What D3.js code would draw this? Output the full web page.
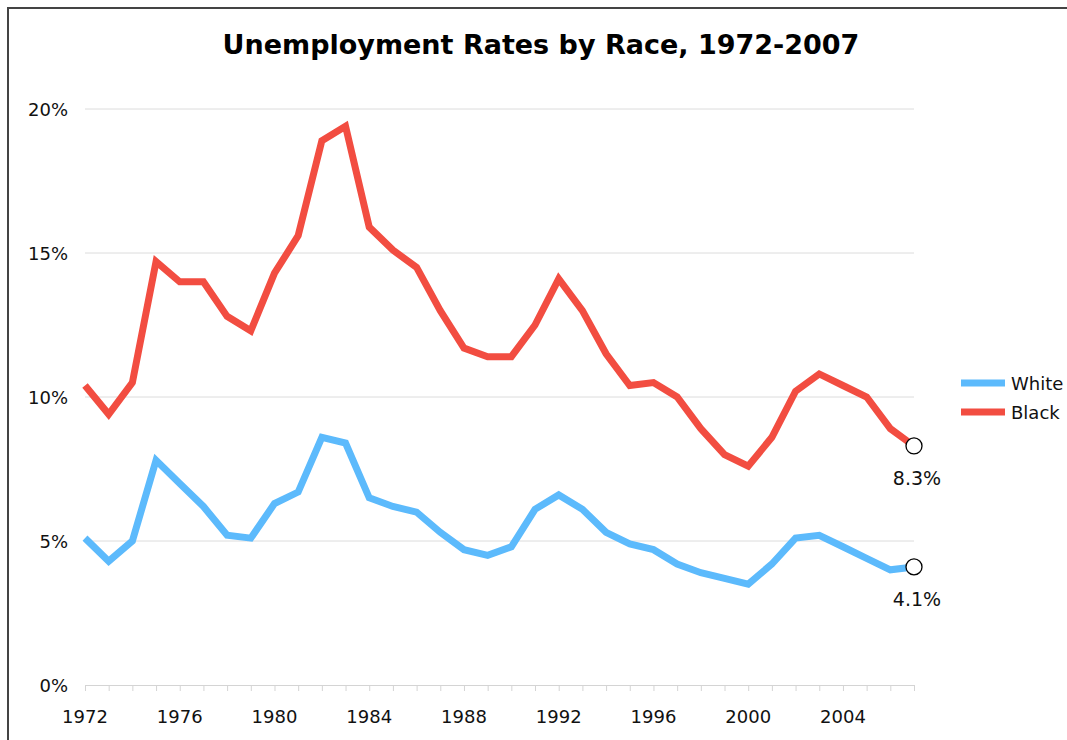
<!DOCTYPE html>
<html>
<head>
<meta charset="utf-8">
<script src="https://cdn.jsdelivr.net/npm/d3@7"></script>
<style>
  body { margin: 0; background: #fff; }
  svg { display: block; font-family: Verdana, 'DejaVu Sans', sans-serif; }
</style>
</head>
<body>
<svg class="canvas" width="1067" height="740"></svg>
<script>
'use strict';

const years = d3.range(1972, 2008);
const white = [5.1, 4.3, 5.0, 7.8, 7.0, 6.2, 5.2, 5.1, 6.3, 6.7, 8.6, 8.4, 6.5, 6.2, 6.0, 5.3, 4.7, 4.5,
  4.8, 6.1, 6.6, 6.1, 5.3, 4.9, 4.7, 4.2, 3.9, 3.7, 3.5, 4.2, 5.1, 5.2, 4.8, 4.4, 4.0, 4.1];
const black = [10.4, 9.4, 10.5, 14.7, 14.0, 14.0, 12.8, 12.3, 14.3, 15.6, 18.9, 19.4, 15.9, 15.1, 14.5,
  13.0, 11.7, 11.4, 11.4, 12.5, 14.1, 13.0, 11.5, 10.4, 10.5, 10.0, 8.9, 8.0, 7.6, 8.6, 10.2, 10.8, 10.4,
  10.0, 8.9, 8.3];
const yTicks = [0, 5, 10, 15, 20];
const xLabels = [1972, 1976, 1980, 1984, 1988, 1992, 1996, 2000, 2004];
const seriesNames = ['White', 'Black'];

const colors = { White: '#5cbafc', Black: '#f24d41' };
const series = [
  { name: 'White', values: white },
  { name: 'Black', values: black }
];

const svg = d3.select('.canvas');
const plotLeft = 85, plotRight = 914, plotTop = 109, plotBottom = 685;

const x = d3.scaleLinear().domain([1972, 2007]).range([plotLeft, plotRight]);
const y = d3.scaleLinear().domain([0, 20]).range([plotBottom, plotTop]);

// frame (only top/left visible, cropped on the others)
svg.append('path')
  .attr('d', 'M8,740 L8,8 L1067,8')
  .attr('fill', 'none')
  .attr('stroke', '#444')
  .attr('stroke-width', 2);

svg.append('text')
  .attr('x', 541)
  .attr('y', 54)
  .attr('text-anchor', 'middle')
  .style('font-size', '27px')
  .style('font-weight', 'bold')
  .text('Unemployment Rates by Race, 1972-2007');

// gridlines + y labels
svg.append('g')
  .selectAll('line')
  .data(yTicks.filter(t => t > 0))
  .enter()
  .append('line')
  .attr('x1', plotLeft)
  .attr('x2', plotRight)
  .attr('y1', d => y(d))
  .attr('y2', d => y(d))
  .attr('stroke', '#dcdcdc')
  .attr('stroke-width', 1);

svg.append('g')
  .selectAll('text')
  .data(yTicks)
  .enter()
  .append('text')
  .attr('x', 68)
  .attr('y', d => y(d) + 7)
  .attr('text-anchor', 'end')
  .style('font-size', '18px')
  .attr('fill', '#111')
  .text(d => d + '%');

// x axis
const xAxis = d3.axisBottom(x)
  .tickValues(years)
  .tickSize(6)
  .tickFormat('');
const axisG = svg.append('g')
  .attr('transform', `translate(0,${plotBottom})`)
  .call(xAxis);
axisG.select('.domain').attr('stroke', '#d4d4d4');
axisG.selectAll('.tick line').attr('stroke', '#d4d4d4');

svg.append('g')
  .selectAll('text')
  .data(xLabels)
  .enter()
  .append('text')
  .attr('x', d => x(d))
  .attr('y', 723)
  .attr('text-anchor', 'middle')
  .style('font-size', '18px')
  .attr('fill', '#111')
  .text(d => d);

// lines
const line = d3.line()
  .x((d, i) => x(years[i]))
  .y(d => y(d));

svg.append('g')
  .selectAll('path')
  .data(series)
  .enter()
  .append('path')
  .attr('d', s => line(s.values))
  .attr('fill', 'none')
  .attr('stroke', s => colors[s.name])
  .attr('stroke-width', 7)
  .attr('stroke-linejoin', 'miter');

// end markers
const last = years.length - 1;
series.forEach(s => {
  const v = s.values[last];
  svg.append('circle')
    .attr('cx', x(years[last]))
    .attr('cy', y(v))
    .attr('r', 8)
    .attr('fill', '#fff')
    .attr('stroke', '#000')
    .attr('stroke-width', 1.3);
  svg.append('text')
    .attr('x', x(years[last]) + 3)
    .attr('y', y(v) + 39)
    .attr('text-anchor', 'middle')
    .style('font-size', '19px')
    .attr('fill', '#111')
    .text(v.toFixed(1) + '%');
});

// legend
const legend = svg.append('g')
  .selectAll('g')
  .data(seriesNames)
  .enter()
  .append('g')
  .attr('transform', (d, i) => `translate(961,${383 + i * 29})`);
legend.append('line')
  .attr('x1', 0)
  .attr('x2', 44)
  .attr('stroke', d => colors[d])
  .attr('stroke-width', 7);
legend.append('text')
  .attr('x', 50)
  .attr('y', 7)
  .style('font-size', '18px')
  .attr('fill', '#111')
  .text(d => d);
</script>
</body>
</html>
